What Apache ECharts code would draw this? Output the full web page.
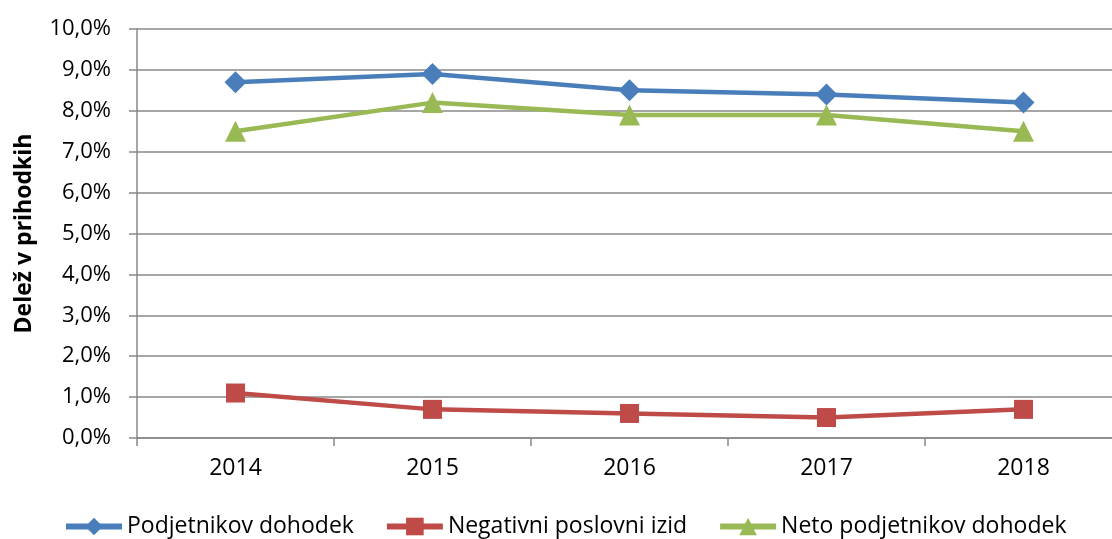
<!DOCTYPE html>
<html><head><meta charset="utf-8">
<script src="https://cdn.jsdelivr.net/npm/echarts@6/dist/echarts.min.js"></script>
<style>html,body{margin:0;padding:0;background:#fff;overflow:hidden;width:1112px;height:539px}#c{width:1125px;height:539px}</style>
</head><body><div id="c"></div>
<script>
const categories = ['2014','2015','2016','2017','2018'];
const podjetnikov = [8.7, 8.9, 8.5, 8.4, 8.2];
const negativni = [1.1, 0.7, 0.6, 0.5, 0.7];
const neto = [7.5, 8.2, 7.9, 7.9, 7.5];
const seriesNames = ['Podjetnikov dohodek','Negativni poslovni izid','Neto podjetnikov dohodek'];
const yTicks = {min:0, max:10, interval:1};

const chart = echarts.init(document.getElementById('c'));
const font = 'Open Sans, Noto Sans, sans-serif';
function ser(name, data, color, symbol, size){
  return {name, type:'line', data, symbol, symbolSize:size, showSymbol:true,
    lineStyle:{width:4.5, color}, itemStyle:{color}, z:3};
}
chart.setOption({
  animation:false,
  textStyle:{fontFamily:font},
  grid:{left:137, right:3, top:29, height:409, containLabel:false},
  legend:{top:510, left:58, itemWidth:56, itemHeight:22, itemGap:30,
    lineStyle:{width:6},
    textStyle:{fontSize:23, color:'#000', fontFamily:font},
    data:seriesNames},
  xAxis:{type:'category', data:categories, boundaryGap:true,
    axisLine:{lineStyle:{color:'#888', width:1.5}},
    axisTick:{show:true, length:8, lineStyle:{color:'#888', width:1.5}},
    axisLabel:{fontSize:23, color:'#000', margin:19}},
  yAxis:{type:'value', min:yTicks.min, max:yTicks.max, interval:yTicks.interval,
    name:'Delež v prihodkih', nameLocation:'middle', nameGap:101,
    nameTextStyle:{fontSize:23, fontWeight:'bold', color:'#000'},
    axisLine:{show:true, lineStyle:{color:'#888', width:1.5}},
    axisTick:{show:true, length:8, lineStyle:{color:'#888', width:1.5}},
    splitLine:{lineStyle:{color:'#888', width:1.5}},
    axisLabel:{fontSize:22, color:'#000', margin:26,
      formatter:v=>v.toFixed(1).replace('.',',')+'%'}},
  series:[
    ser(seriesNames[0], podjetnikov, '#4a7ebb', 'diamond', 22),
    ser(seriesNames[1], negativni, '#be4b48', 'rect', 19),
    ser(seriesNames[2], neto, '#98b954', 'triangle', 21)
  ]
});
</script></body></html>
